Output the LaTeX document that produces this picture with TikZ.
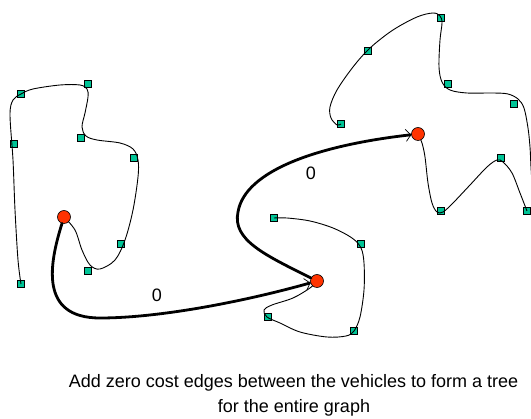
\documentclass[tikz,border=0pt]{standalone}
\usepackage{fontspec}
\setmainfont{Liberation Sans}
\usetikzlibrary{arrows.meta}
\definecolor{stopteal}{RGB}{0,196,150}
\definecolor{vehiclered}{RGB}{255,51,0}
\tikzset{
  stopsq/.style={shape=rectangle, draw=black, line width=0.6pt, fill=stopteal,
    minimum size=7pt, inner sep=0pt},
  vehicle/.style={shape=circle, draw=black, line width=0.6pt, fill=vehiclered,
    minimum size=13pt, inner sep=0pt},
  route/.style={line width=0.9pt, line join=round},
  link/.style={line width=2.8pt, line cap=round,
    -{Straight Barb[length=5pt,width=12pt,line width=0.7pt]}},
  cost/.style={font=\fontsize{18}{18}\selectfont, inner sep=0pt},
  caption/.style={font=\fontsize{18}{22}\selectfont, anchor=base, inner sep=0pt}
}
\begin{document}
\begin{tikzpicture}[x=1pt,y=-1pt]
\useasboundingbox (0,0) rectangle (531,419);

% vehicle positions
\coordinate (p1) at (64,217);
\coordinate (p2) at (317,281);
\coordinate (p3) at (418,134);

% customer stops
\node[stopsq] (a1) at (21,284) {};
\node[stopsq] (a2) at (14,144) {};
\node[stopsq] (a3) at (21,94) {};
\node[stopsq] (a4) at (88,84) {};
\node[stopsq] (a5) at (81,138) {};
\node[stopsq] (a6) at (134,158) {};
\node[stopsq] (a7) at (121,244) {};
\node[stopsq] (a8) at (88,271) {};

\node[stopsq] (b1) at (274,218) {};
\node[stopsq] (b2) at (361,244) {};
\node[stopsq] (b3) at (354,331) {};
\node[stopsq] (b4) at (268,317) {};

\node[stopsq] (c1) at (341,124) {};
\node[stopsq] (c2) at (368,51) {};
\node[stopsq] (c3) at (441,18) {};
\node[stopsq] (c4) at (448,84) {};
\node[stopsq] (c5) at (514,104) {};
\node[stopsq] (c6) at (501,158) {};
\node[stopsq] (c7) at (441,211) {};
\node[stopsq] (c8) at (527,211) {};

% vehicle routes
\draw[route] plot[smooth, tension=0.55] coordinates {
  (a1) (18,260) (15,210) (13,160) (10,115) (13,100) (21,94) (33,89) (60,85)
  (80,85) (87,89) (88,97) (85,113) (82,127) (86,136) (97,140) (120,143)
  (133,149) (138,160) (138,177) (133,210) (125,240) (115,260) (100,269)
  (90,265) (82,250) (75,230) (p1)};

\draw[route] plot[smooth, tension=0.55] coordinates {
  (b1) (287,218) (310,221) (333,228) (352,238) (361,248) (364,263) (364,290)
  (360,317) (354,331) (346,336) (327,337) (300,332) (280,323) (267,317)
  (264,310) (272,305) (293,298) (310,288) (p2)};

\draw[route] plot[smooth, tension=0.55] coordinates {
  (c1) (337,125) (331,118) (330,107) (337,90) (353,67) (370,48) (393,30)
  (417,17) (433,13) (440,16) (442,23) (440,40) (439,67) (442,82) (450,90)
  (467,93) (493,93) (508,94) (518,99) (524,108) (528,128) (530,147)
  (531,167) (533,200)};

\draw[route] plot[smooth, tension=0.55] coordinates {
  (p3) (422,143) (425,157) (428,183) (432,203) (437,212) (443,212) (453,203)
  (470,185) (487,167) (497,160) (503,162) (512,173) (520,193) (c8)};

% vehicles
\node[vehicle] (v1) at (p1) {};
\node[vehicle] (v2) at (p2) {};
\node[vehicle] (v3) at (p3) {};

% zero cost edges joining the vehicles
\draw[link] (v1) .. controls (50,262) and (38,318) .. (100,318)
  .. controls (162,318) and (250,300) .. (v2);
\draw[link] (v2) .. controls (265,255) and (232,240) .. (238,212)
  .. controls (245,170) and (320,145) .. (v3);

\node[cost] (w1) at (157,295) {0};
\node[cost] (w2) at (311,173) {0};

\node[caption] (t1) at (293.5,388) {Add zero cost edges between the vehicles to form a tree};
\node[caption] (t2) at (294,413) {for the entire graph};
\end{tikzpicture}
\end{document}
